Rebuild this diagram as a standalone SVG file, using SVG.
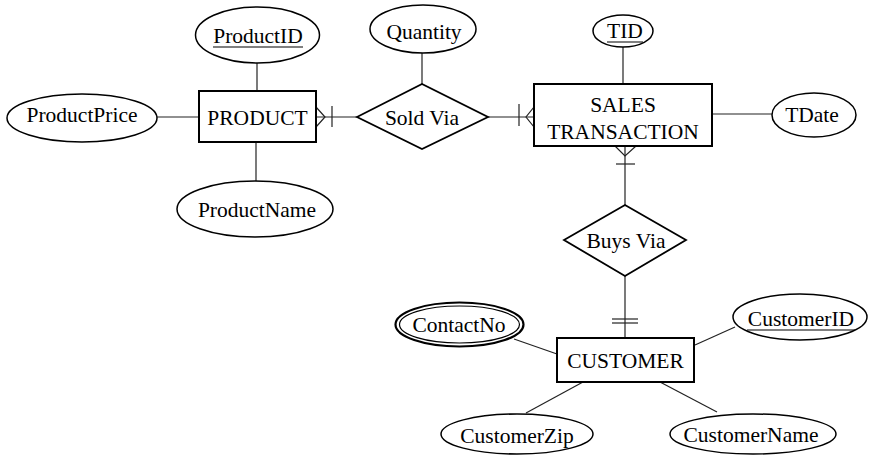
<svg xmlns="http://www.w3.org/2000/svg" width="870" height="455" viewBox="0 0 870 455">
<style>
.ent{fill:#fff;stroke:#000;stroke-width:2}
.att{fill:#fff;stroke:#000;stroke-width:1.5}
.rel{fill:#fff;stroke:#000;stroke-width:1.8}
.t{font-family:"Liberation Serif","Times New Roman",serif;font-size:21.5px;fill:#000;text-anchor:middle}
.c line,.c path{stroke:#222;stroke-width:1.2;fill:none}
.u{stroke:#000;stroke-width:1.2}
</style>
<rect width="870" height="455" fill="#fff"/>
<g class="c" id="connectors">
<line x1="257" y1="63" x2="257" y2="91"/>
<line x1="157" y1="117" x2="199" y2="117"/>
<line x1="256" y1="142" x2="256" y2="181"/>
<line x1="316" y1="117" x2="357" y2="117"/>
<path d="M316,107 L325,117 L316,127"/>
<line x1="332" y1="106" x2="332" y2="127"/>
<line x1="422" y1="53" x2="422" y2="84"/>
<line x1="488" y1="117" x2="534" y2="117"/>
<path d="M534,107 L526,117 L534,127"/>
<line x1="519" y1="104" x2="519" y2="126"/>
<line x1="623" y1="47" x2="623" y2="84"/>
<line x1="712" y1="114" x2="772" y2="114"/>
<line x1="625" y1="146" x2="625" y2="205"/>
<path d="M615,146 L625,156 L636,146"/>
<line x1="616" y1="164" x2="635" y2="164"/>
<line x1="625" y1="276" x2="625" y2="338"/>
<line x1="612" y1="319" x2="638" y2="319"/>
<line x1="612" y1="323" x2="638" y2="323"/>
<line x1="514" y1="339" x2="557" y2="354"/>
<line x1="695" y1="345" x2="735" y2="327"/>
<line x1="583" y1="382" x2="526" y2="413"/>
<line x1="660" y1="382" x2="717" y2="412"/>
</g>
<g id="product">
<rect class="ent" x="199" y="91" width="117" height="51"/>
<text class="t" x="257.5" y="124.5">PRODUCT</text>
</g>
<g id="productid">
<ellipse class="att" cx="257.5" cy="35" rx="62" ry="28"/>
<text class="t" x="258" y="43">ProductID</text>
<line class="u" x1="213" y1="47" x2="303" y2="47"/>
</g>
<g id="productprice">
<ellipse class="att" cx="82" cy="118" rx="75" ry="24"/>
<text class="t" x="82" y="122">ProductPrice</text>
</g>
<g id="productname">
<ellipse class="att" cx="255" cy="209" rx="78" ry="28"/>
<text class="t" x="257" y="217">ProductName</text>
</g>
<g id="quantity">
<ellipse class="att" cx="423" cy="29" rx="53" ry="24"/>
<text class="t" x="424" y="39">Quantity</text>
</g>
<g id="soldvia">
<polygon class="rel" points="357,117 422,84 488,117 422,149"/>
<text class="t" x="422" y="125">Sold Via</text>
</g>
<g id="salestransaction">
<rect class="ent" x="534" y="84" width="178" height="62"/>
<text class="t" x="623" y="112">SALES</text>
<text class="t" x="623" y="139">TRANSACTION</text>
</g>
<g id="tid">
<ellipse class="att" cx="623" cy="31" rx="30" ry="16"/>
<text class="t" x="625" y="38">TID</text>
<line class="u" x1="607" y1="42" x2="643" y2="42"/>
</g>
<g id="tdate">
<ellipse class="att" cx="814" cy="115" rx="42" ry="22"/>
<text class="t" x="812" y="122">TDate</text>
</g>
<g id="buysvia">
<polygon class="rel" points="564,240 625,205 686,240 625,276"/>
<text class="t" x="626" y="248">Buys Via</text>
</g>
<g id="customer">
<rect class="ent" x="557" y="338" width="137" height="44"/>
<text class="t" x="625.5" y="367.5">CUSTOMER</text>
</g>
<g id="contactno">
<ellipse cx="459.5" cy="324.5" rx="64" ry="22" fill="#fff" stroke="#000" stroke-width="2.2"/>
<ellipse cx="459.5" cy="324.5" rx="60" ry="18.5" fill="none" stroke="#000" stroke-width="1.2"/>
<text class="t" x="459" y="332">ContactNo</text>
</g>
<g id="customerid">
<ellipse class="att" cx="800" cy="317" rx="67" ry="23"/>
<text class="t" x="801" y="326">CustomerID</text>
<line class="u" x1="747" y1="330" x2="855" y2="330"/>
</g>
<g id="customerzip">
<ellipse class="att" cx="517" cy="434" rx="76" ry="20"/>
<text class="t" x="517" y="443">CustomerZip</text>
</g>
<g id="customername">
<ellipse class="att" cx="753" cy="434" rx="83" ry="20"/>
<text class="t" x="751" y="442">CustomerName</text>
</g>
</svg>
